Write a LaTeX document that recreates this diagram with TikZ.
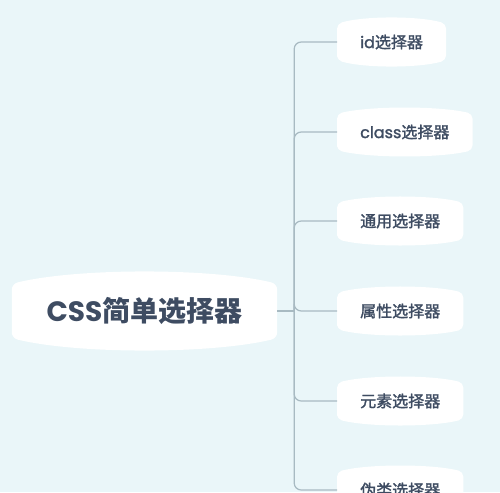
\documentclass[tikz,border=0pt]{standalone}
\usepackage{fontspec}
\newfontfamily\cjk{Noto Sans CJK SC}
\newfontfamily\cjkm{Noto Sans CJK SC}[FakeBold=1.6]
\newfontfamily\lat{Poppins}
\newfontfamily\latm{Poppins}[FakeBold=1.6]
\usetikzlibrary{calc}
\definecolor{bgc}{RGB}{234,246,249}
\definecolor{linec}{RGB}{168,186,194}
\definecolor{txt}{RGB}{62,76,98}
\pgfdeclarelayer{bg}\pgfsetlayers{bg,main}
% #1 node, #2 bulge (pt, number), #3 corner radius
\newcommand\blobshape[3]{%
 \fill[white, rounded corners=#3pt] (#1.south west) -- (#1.north west)
  .. controls ($(#1.north west)!0.25!(#1.north east)+(0,-1.333*#2)$) and ($(#1.north west)!0.75!(#1.north east)+(0,-1.333*#2)$) .. (#1.north east)
  -- (#1.south east)
  .. controls ($(#1.north west)!0.75!(#1.north east)!1!(#1.south east)$) and ($(#1.south west)!0.25!(#1.south east)+(0,1.333*#2)$) .. (#1.south west) -- cycle;}
\newcommand\blobfix[3]{%
 \fill[white, rounded corners=#3pt] (#1.south west) -- (#1.north west)
  .. controls ($(#1.north west)!0.25!(#1.north east)+(0,-1.333*#2)$) and ($(#1.north west)!0.75!(#1.north east)+(0,-1.333*#2)$) .. (#1.north east)
  -- (#1.south east)
  .. controls ($(#1.south west)!0.75!(#1.south east)+(0,1.333*#2)$) and ($(#1.south west)!0.25!(#1.south east)+(0,1.333*#2)$) .. (#1.south west) -- cycle;}
\begin{document}
\begin{tikzpicture}[x=1pt,y=-1pt,
 rootbox/.style={anchor=center, minimum width=265pt, minimum height=54pt, inner sep=0pt, text=txt, font=\fontsize{28}{30}\selectfont\bfseries},
 childbox/.style={anchor=west, minimum height=36pt, inner xsep=23pt, inner ysep=0pt, text=txt, font=\fontsize{16}{18}\selectfont},
 conn/.style={draw=linec, line width=1.2pt, rounded corners=7pt}]
\useasboundingbox (0,0) rectangle (500,492);
\node[rootbox] (r) at (144.5,311) {{\lat CSS}{\cjk 简单选择器}};
\node[childbox] (c1) at (337,42) {{\latm id}{\cjkm 选择器}};
\node[childbox] (c2) at (337,132) {{\latm class}{\cjkm 选择器}};
\node[childbox] (c3) at (337,221) {\cjkm 通用选择器};
\node[childbox] (c4) at (337,311) {\cjkm 属性选择器};
\node[childbox] (c5) at (337,401) {\cjkm 元素选择器};
\node[childbox] (c6) at (337,490) {\cjkm 伪类选择器};
\coordinate (j) at ([xshift=17pt]r.east);
\begin{pgfonlayer}{bg}
\fill[bgc] (0,0) rectangle (500,492);
\blobfix{r}{12}{6}
\foreach \n in {c1,c2,c3,c4,c5,c6} {\blobfix{\n}{6}{5}}
\end{pgfonlayer}
\draw[conn] (r.east) -- (j);
\foreach \n in {c1,c2,c3,c4,c5,c6} {\draw[conn] (j) |- (\n.west);}
\end{tikzpicture}
\end{document}
